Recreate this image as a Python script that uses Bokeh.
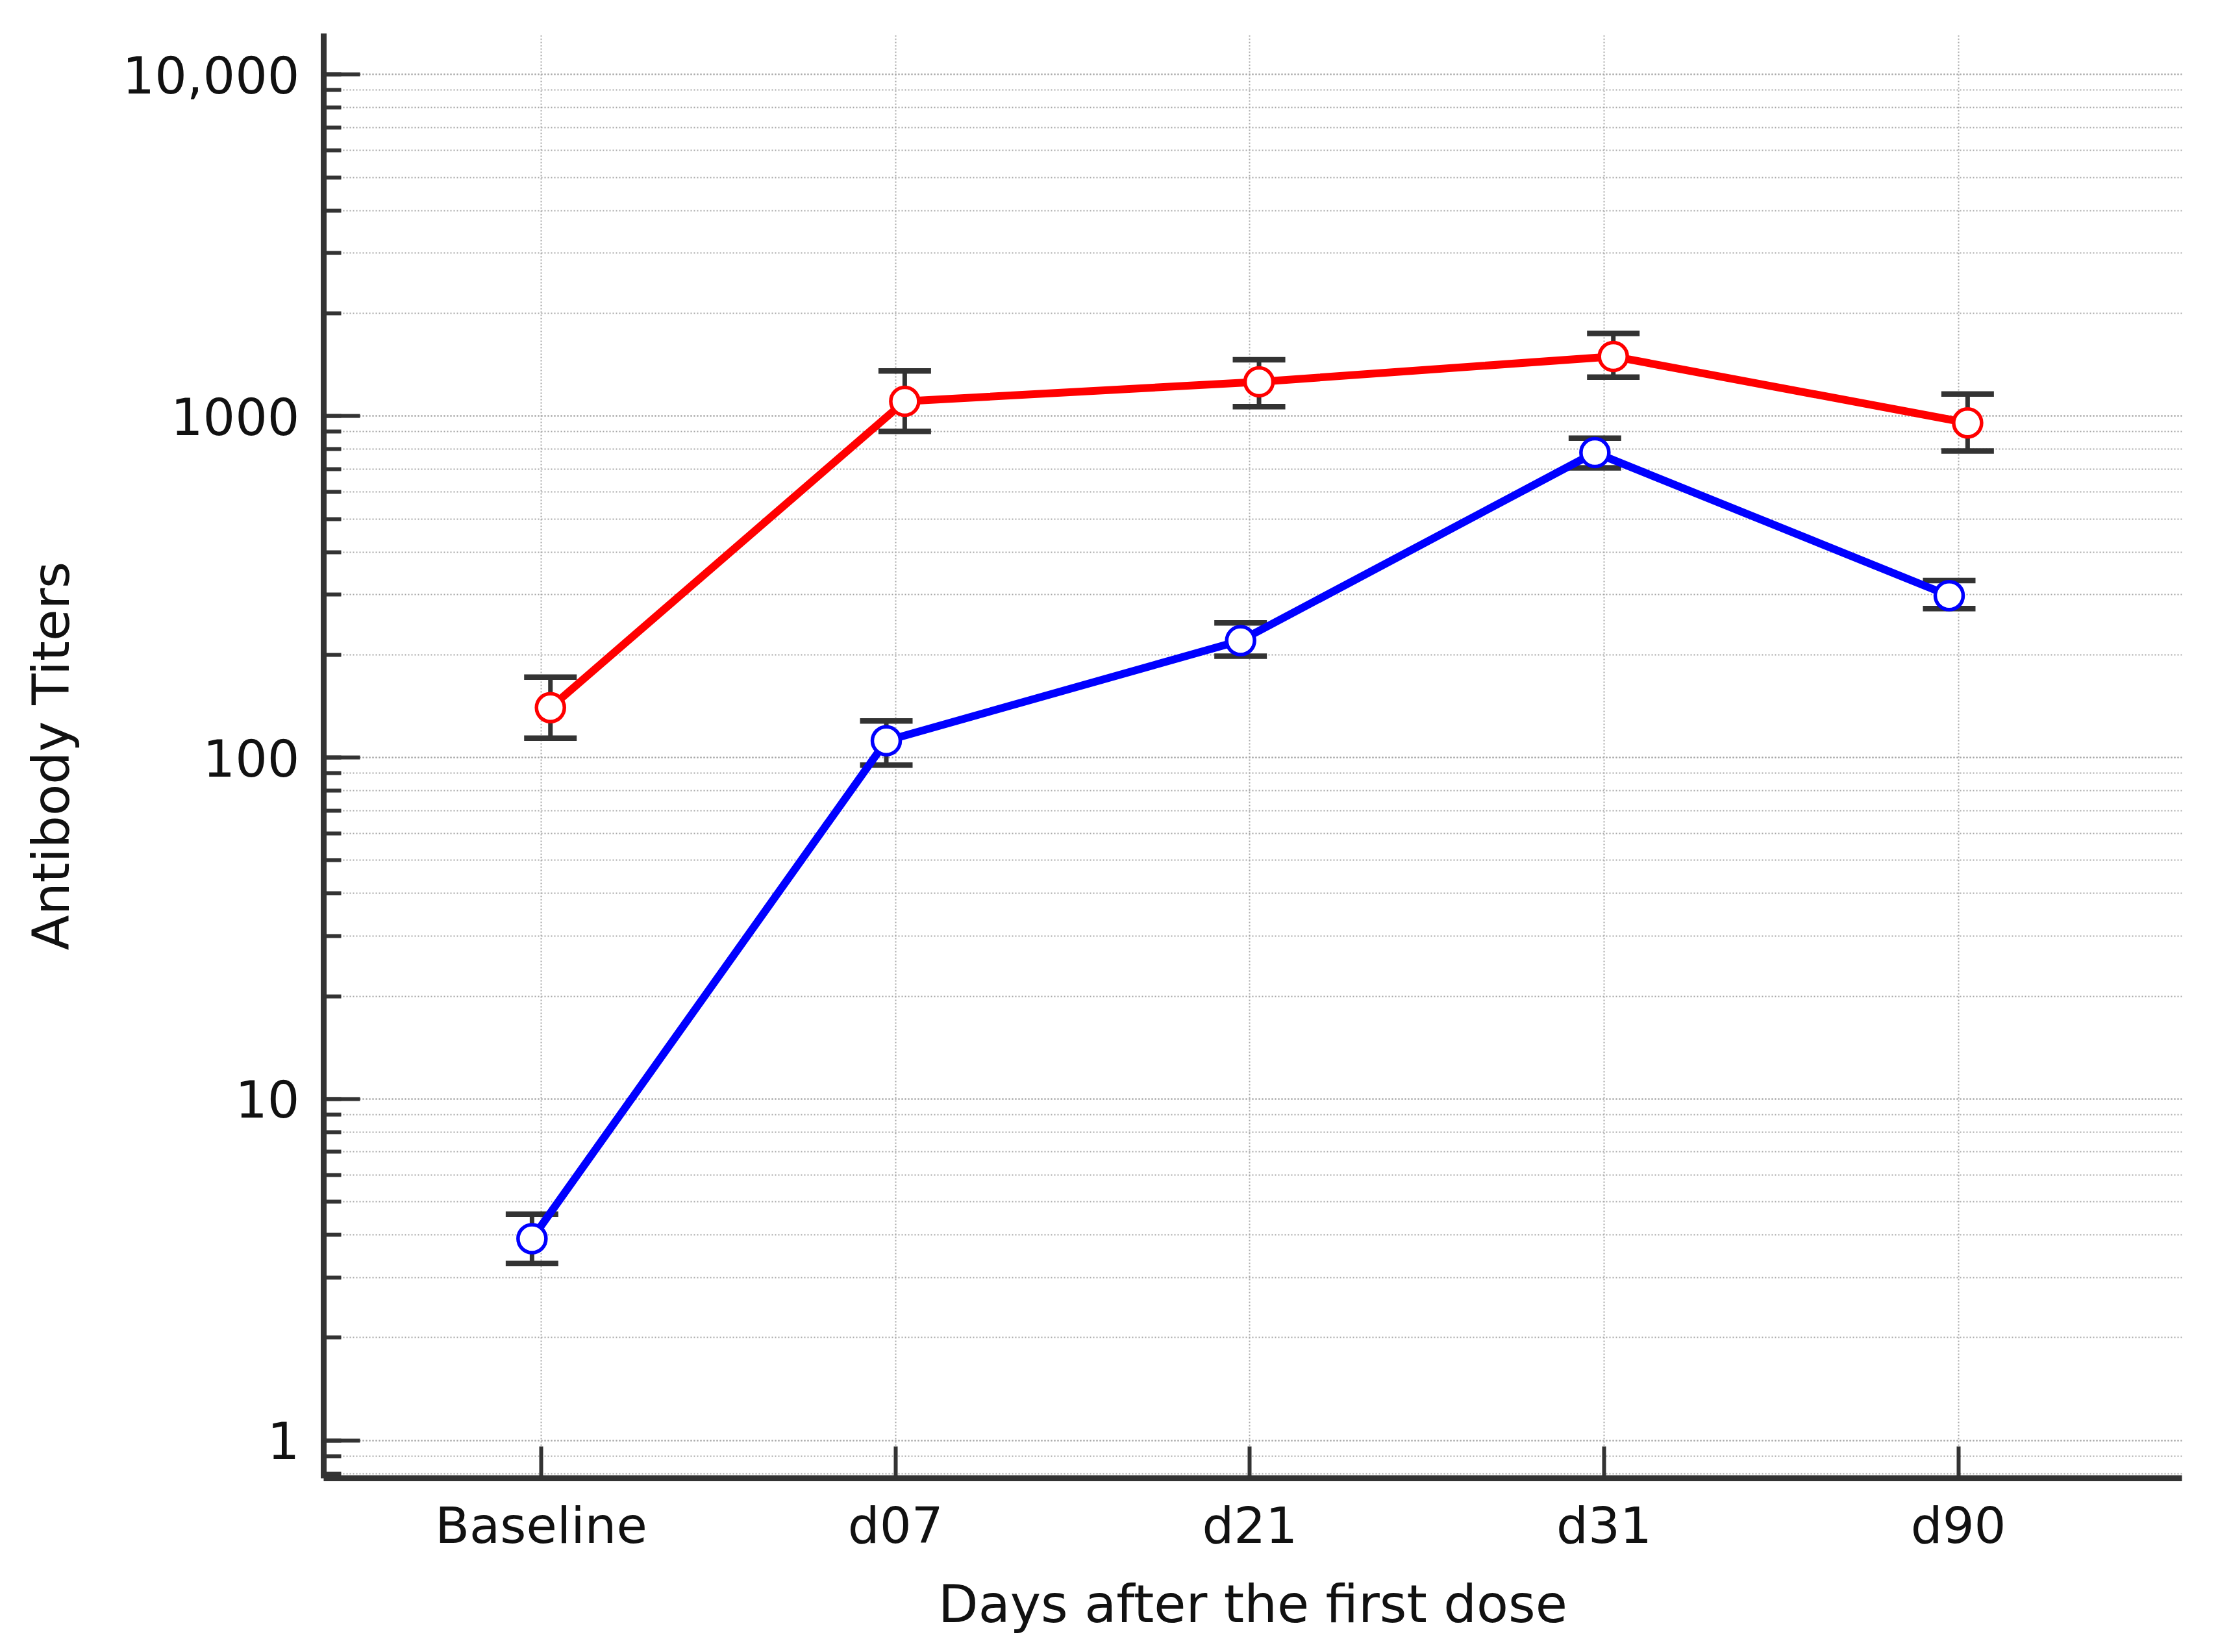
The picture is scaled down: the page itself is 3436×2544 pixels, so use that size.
from bokeh.plotting import figure
from bokeh.models import Range1d, FixedTicker, LogTicker
from bokeh.embed import file_html
from bokeh.resources import INLINE

# ---- data ----
categories = ["Baseline", "d07", "d21", "d31", "d90"]

red_mean = [140, 1105, 1260, 1495, 955]
red_upper = [172, 1355, 1462, 1746, 1160]
red_lower = [114, 902, 1065, 1300, 790]

blue_mean = [3.9, 112, 220, 782, 298]
blue_upper = [4.6, 128, 248, 862, 330]
blue_lower = [3.3, 95, 198, 705, 273]

y_tick_values = [1, 10, 100, 1000, 10000]
y_tick_labels = ["1", "10", "100", "1000", "10,000"]

# ---- layout / style ----
x_pos = list(range(len(categories)))
dodge = 0.026
red_x = [i + dodge for i in x_pos]
blue_x = [i - dodge for i in x_pos]

FONT = "DejaVu Sans"
TXT = "#111111"
AX = "#333333"
GRID = "#a6a6a6"

p = figure(width=3420, height=2520, y_axis_type="log",
           x_range=Range1d(-0.614, 4.631), y_range=Range1d(0.775, 13200),
           output_backend="svg", toolbar_location=None,
           min_border_left=498, min_border_right=60,
           min_border_top=51, min_border_bottom=244)
p.outline_line_color = None
p.background_fill_color = "white"
p.border_fill_color = "white"

# x axis
xa = p.xaxis[0]
xa.ticker = FixedTicker(ticks=x_pos)
xa.major_label_overrides = {i: c for i, c in zip(x_pos, categories)}
xa.axis_label = "Days after the first dose"
xa.major_tick_in = 49
xa.major_tick_out = 0
xa.minor_tick_line_color = None
xa.major_tick_line_width = 6
xa.major_tick_line_color = AX
xa.axis_line_width = 9
xa.axis_line_color = AX
xa.major_label_text_font = FONT
xa.major_label_text_font_size = "77px"
xa.major_label_text_color = TXT
xa.major_label_standoff = 28
xa.axis_label_text_font = FONT
xa.axis_label_text_font_size = "80px"
xa.axis_label_text_font_style = "normal"
xa.axis_label_text_color = TXT
xa.axis_label_standoff = 27

# y axis
ya = p.yaxis[0]
ya.ticker = LogTicker(num_minor_ticks=10)
ya.major_label_overrides = {v: l for v, l in zip(y_tick_values, y_tick_labels)}
ya.axis_label = "Antibody Titers"
ya.major_tick_in = 56
ya.major_tick_out = 0
ya.minor_tick_in = 27
ya.minor_tick_out = 0
ya.major_tick_line_width = 6
ya.minor_tick_line_width = 6
ya.major_tick_line_color = AX
ya.minor_tick_line_color = AX
ya.axis_line_width = 9
ya.axis_line_color = AX
ya.major_label_text_font = FONT
ya.major_label_text_font_size = "78px"
ya.major_label_text_color = TXT
ya.major_label_standoff = 37
ya.axis_label_text_font = FONT
ya.axis_label_text_font_size = "79px"
ya.axis_label_text_font_style = "normal"
ya.axis_label_text_color = TXT
ya.axis_label_standoff = 61

# grids
p.xgrid.grid_line_color = GRID
p.xgrid.grid_line_width = 2
p.xgrid.grid_line_dash = "2 3"
p.ygrid.grid_line_color = GRID
p.ygrid.grid_line_width = 2
p.ygrid.grid_line_dash = "2 3"
p.ygrid.minor_grid_line_color = GRID
p.ygrid.minor_grid_line_width = 2
p.ygrid.minor_grid_line_dash = "2 3"

# error bars
for xs, lo, hi in ((red_x, red_lower, red_upper), (blue_x, blue_lower, blue_upper)):
    p.segment(x0=xs, y0=lo, x1=xs, y1=hi, line_color=AX, line_width=7)
    p.scatter(x=xs, y=hi, marker="dash", size=81, line_color=AX, line_width=8.5)
    p.scatter(x=xs, y=lo, marker="dash", size=81, line_color=AX, line_width=8.5)

# lines
p.line(x=red_x, y=red_mean, line_color="#ff0000", line_width=12)
p.line(x=blue_x, y=blue_mean, line_color="#0000ff", line_width=12)

# markers
p.scatter(x=red_x, y=red_mean, marker="circle", size=43, fill_color="white",
          line_color="#ff0000", line_width=5.5)
p.scatter(x=blue_x, y=blue_mean, marker="circle", size=43, fill_color="white",
          line_color="#0000ff", line_width=5.5)

open("out.html", "w").write(file_html(p, INLINE))
